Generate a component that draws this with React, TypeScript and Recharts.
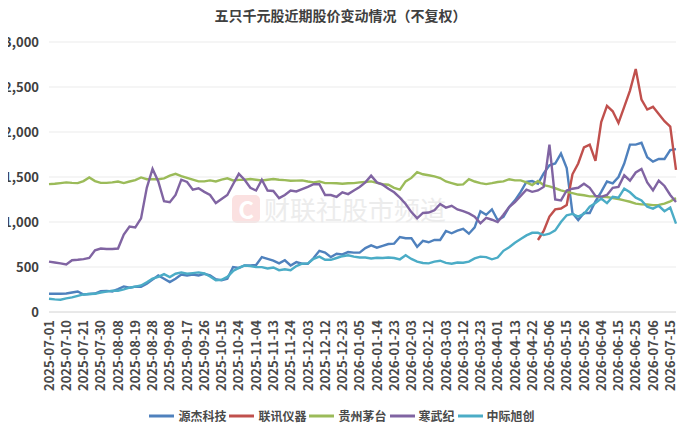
import React from 'react';
import { LineChart, Line, XAxis, YAxis, CartesianGrid, Legend } from 'recharts';

// 交易日（每隔约2.33个交易日取一个点，每3个点一个刻度标签）
const dates = [
  '2025-07-01', '2025-07-03', '2025-07-08', '2025-07-10', '2025-07-14', '2025-07-16',
  '2025-07-21', '2025-07-23', '2025-07-25', '2025-07-30', '2025-08-01', '2025-08-05',
  '2025-08-08', '2025-08-12', '2025-08-14', '2025-08-19', '2025-08-21', '2025-08-25',
  '2025-08-28', '2025-09-01', '2025-09-03', '2025-09-08', '2025-09-10', '2025-09-12',
  '2025-09-17', '2025-09-19', '2025-09-23', '2025-09-26', '2025-09-30', '2025-10-10',
  '2025-10-15', '2025-10-17', '2025-10-21', '2025-10-24', '2025-10-28', '2025-10-30',
  '2025-11-04', '2025-11-06', '2025-11-10', '2025-11-13', '2025-11-17', '2025-11-19',
  '2025-11-24', '2025-11-26', '2025-11-28', '2025-12-03', '2025-12-05', '2025-12-09',
  '2025-12-12', '2025-12-16', '2025-12-18', '2025-12-23', '2025-12-25', '2025-12-29',
  '2026-01-05', '2026-01-07', '2026-01-09', '2026-01-14', '2026-01-16', '2026-01-20',
  '2026-01-23', '2026-01-27', '2026-01-29', '2026-02-03', '2026-02-05', '2026-02-09',
  '2026-02-12', '2026-02-24', '2026-02-26', '2026-03-03', '2026-03-05', '2026-03-09',
  '2026-03-12', '2026-03-16', '2026-03-18', '2026-03-23', '2026-03-25', '2026-03-27',
  '2026-04-01', '2026-04-03', '2026-04-08', '2026-04-13', '2026-04-15', '2026-04-17',
  '2026-04-22', '2026-04-24', '2026-04-28', '2026-05-06', '2026-05-08', '2026-05-12',
  '2026-05-15', '2026-05-19', '2026-05-21', '2026-05-26', '2026-05-28', '2026-06-01',
  '2026-06-04', '2026-06-08', '2026-06-10', '2026-06-15', '2026-06-17', '2026-06-19',
  '2026-06-25', '2026-06-29', '2026-07-01', '2026-07-06', '2026-07-08', '2026-07-10',
  '2026-07-15', '2026-07-17',
];

// 源杰科技
const yuanjie = [
  202, 202, 202, 205, 217, 228, 195, 200, 205, 232, 235, 228, 255, 284, 269, 282, 280, 313,
  360, 406, 370, 332, 370, 417, 406, 417, 406, 425, 406, 365, 352, 369, 499, 490, 517, 517,
  522, 610, 590, 570, 540, 575, 517, 554, 536, 536, 600, 680, 660, 610, 647, 640, 666, 660,
  660, 710, 740, 715, 735, 755, 760, 833, 820, 820, 725, 790, 775, 800, 800, 900, 875, 905,
  925, 870, 940, 1120, 1080, 1140, 1020, 1056, 1167, 1241, 1334, 1445, 1455, 1426, 1540, 1630,
  1650, 1760, 1600, 1100, 1020, 1100, 1100, 1230, 1334, 1450, 1430, 1500, 1649, 1860, 1860, 1880,
  1720, 1670, 1700, 1700, 1800, 1810,
];

// 联讯仪器（2026-04-22 后上市）
const lianxun = [
  ...Array(85).fill(null),
  800, 900, 1060, 1140, 1150, 1190, 1530, 1650, 1830, 1860, 1680, 2110, 2290, 2230, 2100,
  2280, 2460, 2700, 2360, 2250, 2280, 2200, 2120, 2060, 1580,
];

// 贵州茅台
const maotai = [
  1421, 1425, 1432, 1440, 1435, 1432, 1455, 1495, 1455, 1435, 1435, 1440, 1450, 1432, 1450, 1465,
  1495, 1475, 1475, 1475, 1485, 1515, 1535, 1510, 1490, 1470, 1451, 1451, 1462, 1451, 1470, 1485,
  1462, 1468, 1470, 1477, 1470, 1462, 1470, 1477, 1470, 1465, 1458, 1460, 1462, 1450, 1440, 1451,
  1432, 1432, 1430, 1425, 1430, 1432, 1440, 1445, 1451, 1435, 1420, 1414, 1380, 1360, 1451, 1490,
  1555, 1530, 1520, 1507, 1488, 1450, 1432, 1414, 1418, 1477, 1450, 1432, 1421, 1432, 1445, 1451,
  1475, 1462, 1463, 1440, 1410, 1455, 1410, 1395, 1375, 1352, 1335, 1320, 1305, 1297, 1285, 1285,
  1280, 1278, 1265, 1255, 1241, 1225, 1204, 1196, 1195, 1188, 1190, 1204, 1230, 1265,
];

// 寒武纪
const hanwuji = [
  560, 550, 540, 528, 575, 580, 588, 600, 685, 705, 700, 700, 705, 860, 950, 940, 1040, 1380,
  1590, 1450, 1230, 1220, 1300, 1470, 1445, 1360, 1375, 1335, 1300, 1210, 1255, 1300, 1420, 1535,
  1470, 1380, 1350, 1470, 1350, 1345, 1265, 1300, 1350, 1340, 1365, 1390, 1420, 1420, 1300, 1300,
  1280, 1330, 1310, 1350, 1390, 1440, 1515, 1440, 1415, 1370, 1330, 1270, 1200, 1110, 1040, 1100,
  1105, 1130, 1200, 1160, 1180, 1140, 1120, 1095, 1060, 985, 1045, 1025, 1000, 1080, 1167, 1222,
  1290, 1360, 1335, 1350, 1390, 1860, 1250, 1240, 1350, 1370, 1380, 1425, 1380, 1290, 1280, 1300,
  1380, 1390, 1519, 1460, 1550, 1590, 1440, 1352, 1460, 1400, 1300, 1222,
];

// 中际旭创
const zhongji = [
  147, 140, 137, 152, 162, 180, 195, 200, 202, 217, 227, 237, 236, 252, 270, 282, 295, 330,
  370, 390, 420, 388, 425, 440, 425, 432, 440, 428, 395, 352, 358, 390, 455, 490, 517, 510,
  499, 499, 483, 495, 465, 475, 465, 510, 536, 540, 590, 615, 580, 580, 600, 620, 630, 615,
  605, 605, 595, 603, 600, 605, 600, 585, 630, 590, 560, 545, 540, 560, 570, 545, 536, 550,
  548, 560, 595, 615, 610, 585, 605, 680, 720, 770, 810, 851, 880, 880, 855, 870, 907, 1000,
  1074, 1090, 1060, 1090, 1170, 1210, 1260, 1210, 1280, 1270, 1370, 1330, 1270, 1240, 1170, 1148,
  1180, 1120, 1160, 982,
];

const yTicks = [0, 500, 1000, 1500, 2000, 2500, 3000];

const series = [
  { key: 'yuanjie', name: '源杰科技', color: '#4F81BD' },
  { key: 'lianxun', name: '联讯仪器', color: '#C0504D' },
  { key: 'maotai', name: '贵州茅台', color: '#9BBB59' },
  { key: 'hanwuji', name: '寒武纪', color: '#8064A2' },
  { key: 'zhongji', name: '中际旭创', color: '#4BACC6' },
];

const data = dates.map((date, i) => ({
  date,
  yuanjie: yuanjie[i],
  lianxun: lianxun[i],
  maotai: maotai[i],
  hanwuji: hanwuji[i],
  zhongji: zhongji[i],
}));

const FONT = '"Noto Sans CJK SC", "Noto Sans", sans-serif';
const TEXT = '#4a4a4a';

const DateTick = (props: any) => {
  const { x, y, payload } = props;
  return (
    <text
      x={x}
      y={y}
      dy="0.36em"
      transform={`rotate(-90, ${x}, ${y})`}
      textAnchor="end"
      fill={TEXT}
      fontSize={13}
      fontWeight={600}
      fontFamily={FONT}
    >
      {payload.value}
    </text>
  );
};

const LegendBox = () => (
  <div style={{ display: 'flex', justifyContent: 'center', alignItems: 'center', fontFamily: FONT }}>
    {series.map((s) => (
      <div key={s.key} style={{ display: 'flex', alignItems: 'center', marginRight: 3 }}>
        <svg width={25} height={4} style={{ marginRight: 4 }}>
          <line x1={0} y1={2} x2={25} y2={2} stroke={s.color} strokeWidth={3} />
        </svg>
        <span style={{ fontSize: 12, fontWeight: 600, color: TEXT }}>{s.name}</span>
      </div>
    ))}
  </div>
);

export default function App() {
  return (
    <div style={{ position: 'relative', width: 692, height: 433, margin: -8, fontFamily: FONT }}>
      <div
        style={{
          position: 'absolute', top: 5, left: 0, width: 681, lineHeight: '20px',
          textAlign: 'center', fontSize: 14, fontWeight: 700, color: '#404040',
        }}
      >
        五只千元股近期股价变动情况（不复权）
      </div>
      {/* 水印 */}
      <div style={{ position: 'absolute', left: 232, top: 190, display: 'flex', alignItems: 'center' }}>
        <div
          style={{
            width: 28, height: 28, borderRadius: 5, background: '#fbe1e1', color: '#fff',
            fontSize: 24, fontWeight: 700, lineHeight: '28px', textAlign: 'center',
          }}
        >
          C
        </div>
        <div style={{ marginLeft: 4, fontSize: 26, color: '#ececec' }}>财联社股市频道</div>
      </div>
      <LineChart
        width={692}
        height={433}
        data={data}
        margin={{ top: 42, right: 16, left: 0, bottom: 36 }}
        style={{ position: 'relative' }}
      >
        <CartesianGrid vertical={false} stroke="#ebebeb" />
        <XAxis
          dataKey="date"
          interval={2}
          height={85}
          tick={<DateTick />}
          tickLine={false}
          tickSize={0}
          tickMargin={8}
          axisLine={{ stroke: '#dcdcdc' }}
        />
        <YAxis
          domain={[0, 3000]}
          ticks={yTicks}
          width={49}
          axisLine={false}
          tickLine={false}
          tickSize={0}
          tickMargin={10}
          tickFormatter={(v: number) => v.toLocaleString('en-US')}
          tick={{ fill: '#404040', fontSize: 13, fontWeight: 600, fontFamily: FONT }}
        />
        <Legend
          verticalAlign="middle"
          content={<LegendBox />}
          wrapperStyle={{ top: 407, left: 0, width: 687 }}
        />
        {series.map((s) => (
          <Line
            key={s.key}
            type="linear"
            dataKey={s.key}
            name={s.name}
            stroke={s.color}
            strokeWidth={2.4}
            dot={false}
            isAnimationActive={false}
          />
        ))}
      </LineChart>
    </div>
  );
}
